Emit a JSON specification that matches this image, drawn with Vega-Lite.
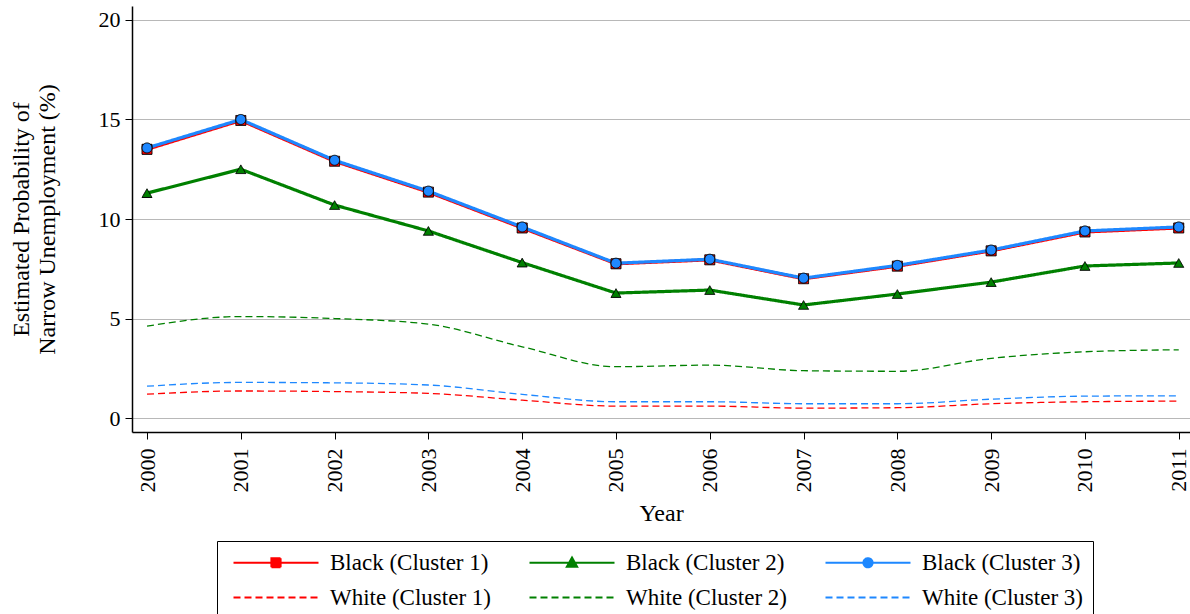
{
  "$schema": "https://vega.github.io/schema/vega-lite/v6.json",
  "autosize": {"type": "none"},
  "padding": {"left": 132, "top": 6, "right": 0, "bottom": 182},
  "width": 1058,
  "height": 426,
  "background": "white",
  "config": {
    "font": "Liberation Serif",
    "view": {"stroke": null},
    "axis": {"labelFont": "Liberation Serif", "titleFont": "Liberation Serif", "labelColor": "black", "titleColor": "black", "titleFontWeight": "normal", "domainColor": "black", "tickColor": "black"},
    "legend": {"labelFont": "Liberation Serif"}
  },
  "data": {
    "values": [
      {"year": 2000, "series": "Black (Cluster 1)", "value": 13.5},
      {"year": 2001, "series": "Black (Cluster 1)", "value": 14.95},
      {"year": 2002, "series": "Black (Cluster 1)", "value": 12.9},
      {"year": 2003, "series": "Black (Cluster 1)", "value": 11.35},
      {"year": 2004, "series": "Black (Cluster 1)", "value": 9.55},
      {"year": 2005, "series": "Black (Cluster 1)", "value": 7.75},
      {"year": 2006, "series": "Black (Cluster 1)", "value": 7.95},
      {"year": 2007, "series": "Black (Cluster 1)", "value": 7.0},
      {"year": 2008, "series": "Black (Cluster 1)", "value": 7.63},
      {"year": 2009, "series": "Black (Cluster 1)", "value": 8.4},
      {"year": 2010, "series": "Black (Cluster 1)", "value": 9.35},
      {"year": 2011, "series": "Black (Cluster 1)", "value": 9.55},
      {"year": 2000, "series": "Black (Cluster 2)", "value": 11.3},
      {"year": 2001, "series": "Black (Cluster 2)", "value": 12.5},
      {"year": 2002, "series": "Black (Cluster 2)", "value": 10.7},
      {"year": 2003, "series": "Black (Cluster 2)", "value": 9.4},
      {"year": 2004, "series": "Black (Cluster 2)", "value": 7.81},
      {"year": 2005, "series": "Black (Cluster 2)", "value": 6.28},
      {"year": 2006, "series": "Black (Cluster 2)", "value": 6.43},
      {"year": 2007, "series": "Black (Cluster 2)", "value": 5.68},
      {"year": 2008, "series": "Black (Cluster 2)", "value": 6.23},
      {"year": 2009, "series": "Black (Cluster 2)", "value": 6.83},
      {"year": 2010, "series": "Black (Cluster 2)", "value": 7.64},
      {"year": 2011, "series": "Black (Cluster 2)", "value": 7.79},
      {"year": 2000, "series": "Black (Cluster 3)", "value": 13.57},
      {"year": 2001, "series": "Black (Cluster 3)", "value": 15.0},
      {"year": 2002, "series": "Black (Cluster 3)", "value": 12.95},
      {"year": 2003, "series": "Black (Cluster 3)", "value": 11.4},
      {"year": 2004, "series": "Black (Cluster 3)", "value": 9.6},
      {"year": 2005, "series": "Black (Cluster 3)", "value": 7.78},
      {"year": 2006, "series": "Black (Cluster 3)", "value": 7.98},
      {"year": 2007, "series": "Black (Cluster 3)", "value": 7.03},
      {"year": 2008, "series": "Black (Cluster 3)", "value": 7.67},
      {"year": 2009, "series": "Black (Cluster 3)", "value": 8.44},
      {"year": 2010, "series": "Black (Cluster 3)", "value": 9.4},
      {"year": 2011, "series": "Black (Cluster 3)", "value": 9.6},
      {"year": 2000, "series": "White (Cluster 1)", "value": 1.2},
      {"year": 2001, "series": "White (Cluster 1)", "value": 1.36},
      {"year": 2002, "series": "White (Cluster 1)", "value": 1.33},
      {"year": 2003, "series": "White (Cluster 1)", "value": 1.24},
      {"year": 2004, "series": "White (Cluster 1)", "value": 0.9},
      {"year": 2005, "series": "White (Cluster 1)", "value": 0.6},
      {"year": 2006, "series": "White (Cluster 1)", "value": 0.6},
      {"year": 2007, "series": "White (Cluster 1)", "value": 0.5},
      {"year": 2008, "series": "White (Cluster 1)", "value": 0.52},
      {"year": 2009, "series": "White (Cluster 1)", "value": 0.72},
      {"year": 2010, "series": "White (Cluster 1)", "value": 0.82},
      {"year": 2011, "series": "White (Cluster 1)", "value": 0.85},
      {"year": 2000, "series": "White (Cluster 2)", "value": 4.62},
      {"year": 2001, "series": "White (Cluster 2)", "value": 5.1},
      {"year": 2002, "series": "White (Cluster 2)", "value": 5.0},
      {"year": 2003, "series": "White (Cluster 2)", "value": 4.72},
      {"year": 2004, "series": "White (Cluster 2)", "value": 3.58},
      {"year": 2005, "series": "White (Cluster 2)", "value": 2.58},
      {"year": 2006, "series": "White (Cluster 2)", "value": 2.66},
      {"year": 2007, "series": "White (Cluster 2)", "value": 2.38},
      {"year": 2008, "series": "White (Cluster 2)", "value": 2.35},
      {"year": 2009, "series": "White (Cluster 2)", "value": 3.0},
      {"year": 2010, "series": "White (Cluster 2)", "value": 3.33},
      {"year": 2011, "series": "White (Cluster 2)", "value": 3.43},
      {"year": 2000, "series": "White (Cluster 3)", "value": 1.6},
      {"year": 2001, "series": "White (Cluster 3)", "value": 1.79},
      {"year": 2002, "series": "White (Cluster 3)", "value": 1.77},
      {"year": 2003, "series": "White (Cluster 3)", "value": 1.66},
      {"year": 2004, "series": "White (Cluster 3)", "value": 1.19},
      {"year": 2005, "series": "White (Cluster 3)", "value": 0.82},
      {"year": 2006, "series": "White (Cluster 3)", "value": 0.82},
      {"year": 2007, "series": "White (Cluster 3)", "value": 0.72},
      {"year": 2008, "series": "White (Cluster 3)", "value": 0.72},
      {"year": 2009, "series": "White (Cluster 3)", "value": 0.95},
      {"year": 2010, "series": "White (Cluster 3)", "value": 1.1},
      {"year": 2011, "series": "White (Cluster 3)", "value": 1.12}
    ]
  },
  "encoding": {
    "x": {
      "field": "year", "type": "quantitative",
      "scale": {"domain": [1999.84, 2011.12], "nice": false, "zero": false},
      "axis": {
        "title": "Year", "titleFontSize": 24, "titlePadding": 9,
        "values": [2000, 2001, 2002, 2003, 2004, 2005, 2006, 2007, 2008, 2009, 2010, 2011],
        "format": "d", "labelAngle": -90, "labelFontSize": 22, "labelPadding": 9,
        "tickSize": 7, "domainWidth": 1.5, "grid": false
      }
    },
    "y": {
      "field": "value", "type": "quantitative",
      "scale": {"domain": [-0.7, 20.7], "nice": false, "zero": false},
      "axis": {
        "title": ["Estimated Probability of", "Narrow Unemployment (%)"],
        "titleFontSize": 24, "titleLineHeight": 26, "titlePadding": 39,
        "values": [0, 5, 10, 15, 20], "labelFontSize": 22, "labelPadding": 5,
        "tickSize": 7, "domainWidth": 1.5,
        "grid": true, "gridColor": "#b8b8b8", "gridWidth": 1.2
      }
    },
    "color": {
      "field": "series", "type": "nominal",
      "scale": {
        "domain": ["Black (Cluster 1)", "Black (Cluster 2)", "Black (Cluster 3)", "White (Cluster 1)", "White (Cluster 2)", "White (Cluster 3)"],
        "range": ["#ff0000", "#008000", "#1e88ff", "#ff0000", "#008000", "#1e88ff"]
      },
      "legend": {
        "title": null, "orient": "none", "legendX": 85, "legendY": 535,
        "columns": 3, "direction": "horizontal",
        "strokeColor": "black", "padding": 10,
        "labelFontSize": 23, "labelColor": "black", "labelOffset": 80, "labelLimit": 300,
        "columnPadding": 32, "rowPadding": 11,
        "symbolSize": 100, "symbolStrokeWidth": 2.2,
        "encode": {
          "symbols": {
            "update": {
              "shape": {"signal": "datum.value == 'Black (Cluster 1)' ? 'M-1,0H16M6.6,-0.9H8.4V0.9H6.6Z' : datum.value == 'Black (Cluster 2)' ? 'M-1,0H16M7.5,-1L8.5,0.8L6.5,0.8Z' : datum.value == 'Black (Cluster 3)' ? 'M-1,0H16M8.4,0A0.9,0.9,0,1,1,6.6,0A0.9,0.9,0,1,1,8.4,0Z' : 'M-1,0H16'"}
            }
          }
        }
      }
    },
    "strokeDash": {
      "field": "series", "type": "nominal",
      "scale": {
        "domain": ["Black (Cluster 1)", "Black (Cluster 2)", "Black (Cluster 3)", "White (Cluster 1)", "White (Cluster 2)", "White (Cluster 3)"],
        "range": [[1, 0], [1, 0], [1, 0], [7, 4], [7, 4], [7, 4]]
      }
    }
  },
  "layer": [
    {
      "transform": [{"filter": "indexof(datum.series, 'White') == 0"}],
      "mark": {"type": "line", "interpolate": "monotone", "strokeWidth": 1.3}
    },
    {
      "transform": [{"filter": "indexof(datum.series, 'Black') == 0"}],
      "mark": {"type": "line", "strokeWidth": 3.2}
    },
    {
      "transform": [{"filter": "indexof(datum.series, 'Black') == 0"}],
      "mark": {"type": "point", "filled": true, "stroke": "black", "strokeWidth": 1, "size": 100, "opacity": 1},
      "encoding": {
        "shape": {
          "field": "series", "type": "nominal",
          "scale": {"domain": ["Black (Cluster 1)", "Black (Cluster 2)", "Black (Cluster 3)"], "range": ["square", "triangle-up", "circle"]},
          "legend": null
        }
      }
    }
  ]
}
